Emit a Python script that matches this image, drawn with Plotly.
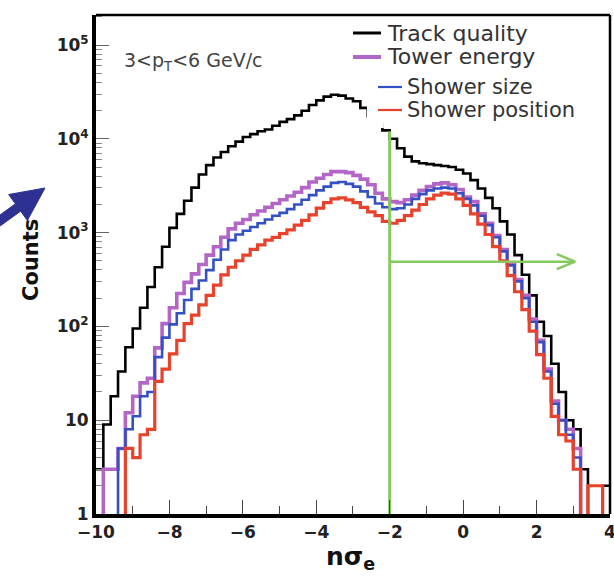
import plotly.graph_objects as go

# ---------------- data (counts per bin, bins of width 0.2 from -10 to 4) ----------------
BIN_LO = -10.0
BIN_W = 0.2

track_quality = [3, 9, 18, 33, 60, 95, 158, 263, 427, 708,
                 1122, 1585, 2188, 3020, 4169, 5248, 6310, 7244, 8318, 9333,
                 10470, 11220, 12020, 12590, 13800, 15140, 16220, 17780, 19950, 22910,
                 25700, 28180, 29510, 28840, 26920, 25120, 21380, 17380, 14450, 12300,
                 10000, 7943, 6457, 5754, 5495, 5370, 5248, 5129, 5012, 4677,
                 4266, 3631, 2951, 2344, 1820, 1318, 955, 575, 355, 214,
                 112, 79, 40, 20, 10, 8, 3, 0, 0, 2]

tower_energy = [0, 3, 3, 5, 12, 18, 25, 28, 59, 107,
                158, 224, 295, 363, 457, 575, 708, 891, 1096, 1259,
                1380, 1549, 1698, 1862, 2042, 2239, 2455, 2692, 3020, 3467,
                3802, 4169, 4467, 4467, 4365, 4074, 3715, 3236, 2630, 2291,
                2138, 2089, 2239, 2512, 2818, 3090, 3311, 3388, 3236, 2884,
                2399, 2138, 1585, 1259, 933, 661, 468, 316, 214, 120,
                71, 35, 16, 10, 8, 5, 0, 0, 0, 0]

shower_size = [0, 0, 0, 5, 8, 11, 18, 20, 47, 76,
               105, 138, 191, 251, 309, 398, 513, 661, 832, 955,
               1047, 1148, 1259, 1380, 1514, 1622, 1778, 1995, 2239, 2512,
               2818, 3090, 3388, 3467, 3311, 3090, 2754, 2399, 2042, 1862,
               1778, 1820, 1995, 2291, 2570, 2818, 2951, 3020, 2951, 2630,
               2291, 1950, 1514, 1202, 891, 631, 447, 302, 200, 112,
               68, 33, 15, 10, 7, 4, 0, 0, 0, 0]

shower_position = [0, 0, 0, 0, 5, 4, 7, 8, 26, 35,
                   51, 71, 107, 132, 170, 214, 275, 355, 427, 501,
                   575, 661, 741, 832, 891, 977, 1072, 1202, 1349, 1549,
                   1820, 2089, 2291, 2344, 2239, 2089, 1862, 1660, 1514, 1318,
                   1259, 1349, 1514, 1738, 1995, 2291, 2512, 2630, 2570, 2291,
                   1950, 1585, 1230, 955, 708, 501, 347, 234, 151, 89,
                   50, 28, 11, 7, 6, 3, 0, 2, 2, 0]

series_names = ["Track quality", "Tower energy", "Shower size", "Shower position"]
series_colors = ["#000000", "#b466c6", "#3550c4", "#e8422c"]
series_widths = [2.6, 3.6, 2.6, 3.2]

x_ticks = [-10, -8, -6, -4, -2, 0, 2, 4]
y_ticks = [1, 10, 100, 1000, 10000, 100000]
y_tick_text = ["1", "10", "10<sup>2</sup>", "10<sup>3</sup>", "10<sup>4</sup>", "10<sup>5</sup>"]

# cut annotation (green): nsigma_e > -2
CUT = -2.0
CUT_TOP = 10 ** 4.08
ARROW_LEVEL = 490
ARROW_END = 3.05

FLOOR = 0.1  # empty bins drawn below the axis (log scale)
FONT = "DejaVu Sans, Liberation Sans, Arial, sans-serif"

# ---------------- geometry helpers (pixel -> paper) ----------------
W, H = 614, 579
ML, MR, MT, MB = 96, 4, 15, 65
PW, PH = W - ML - MR, H - MT - MB


def px(xp):
    return (xp - ML) / PW


def py(yp):
    return (H - MB - yp) / PH


# ---------------- figure ----------------
fig = go.Figure()
n = len(track_quality)
edges = [BIN_LO + i * BIN_W for i in range(n + 1)]


def step(counts):
    y = [c if c > 0 else FLOOR for c in counts]
    return edges, y + [y[-1]]


for name, data, col, w in zip(series_names,
                              [track_quality, tower_energy, shower_size, shower_position],
                              series_colors, series_widths):
    xs, ys = step(data)
    fig.add_trace(go.Scatter(x=xs, y=ys, mode="lines", name=name, showlegend=False,
                             line=dict(color=col, width=w, shape="hv")))

GREEN = "#86c95e"
fig.add_trace(go.Scatter(x=[CUT, CUT], y=[FLOOR, CUT_TOP], mode="lines",
                         line=dict(color=GREEN, width=3), showlegend=False, hoverinfo="skip"))
fig.add_trace(go.Scatter(x=[CUT, ARROW_END], y=[ARROW_LEVEL, ARROW_LEVEL], mode="lines",
                         line=dict(color=GREEN, width=2.5), showlegend=False, hoverinfo="skip"))
fig.add_trace(go.Scatter(x=[ARROW_END - 0.5, ARROW_END, ARROW_END - 0.5],
                         y=[ARROW_LEVEL * 10 ** 0.08, ARROW_LEVEL, ARROW_LEVEL / 10 ** 0.08],
                         mode="lines", line=dict(color=GREEN, width=2.5),
                         showlegend=False, hoverinfo="skip"))

minor_y = [k * 10 ** p for p in range(0, 6) for k in range(2, 10)]

fig.update_layout(
    width=W, height=H,
    margin=dict(l=ML, r=MR, t=MT, b=MB, autoexpand=False),
    paper_bgcolor="white", plot_bgcolor="white",
    font=dict(family=FONT, color="#222"),
    showlegend=False,
    xaxis=dict(range=[-10, 4.0005], tickvals=x_ticks, ticks="inside", ticklen=14,
               tickwidth=1.3, tickcolor="#444", showline=True, linewidth=4,
               linecolor="black", showgrid=False, zeroline=False, automargin=False,
               ticklabeloverflow="allow",
               tickfont=dict(family=FONT, size=17, color="#222", weight="bold"),
               minor=dict(ticks="inside", ticklen=8, dtick=1, tickcolor="#444",
                          tickwidth=1.3, showgrid=False)),
    yaxis=dict(type="log", range=[0, 5.32], tickvals=y_ticks, ticktext=y_tick_text,
               ticks="inside", ticklen=13, tickwidth=1.3, tickcolor="#666",
               showline=True, linewidth=4, linecolor="black", showgrid=False,
               zeroline=False, automargin=False, ticklabeloverflow="allow",
               tickfont=dict(family=FONT, size=17, color="#222", weight="bold"),
               minor=dict(tickmode="array", tickvals=minor_y, ticks="inside",
                          ticklen=6, tickcolor="#888", tickwidth=1, showgrid=False)),
)

# frame (top & right thinner)
fig.add_shape(type="line", xref="paper", yref="paper", x0=0, x1=1, y0=1, y1=1,
              line=dict(color="black", width=2.5))
fig.add_shape(type="line", xref="paper", yref="paper", x0=1, x1=1, y0=0, y1=1,
              line=dict(color="black", width=2.5))
# white patch hiding part of the black curve as in the original
fig.add_shape(type="rect", xref="x", yref="y", x0=-2.62, x1=-2.16,
              y0=10 ** 4.115, y1=10 ** 4.42, fillcolor="white", line=dict(width=0),
              layer="above")

# ---------------- legend (drawn by hand to match the original layout) ----------------
legend_rows_y = [33, 57, 87, 110]
legend_line_x = [(353, 381), (353, 381), (378, 402), (378, 402)]
legend_text_x = [385, 385, 405, 405]
legend_line_w = [3, 4, 2.2, 2.2]
legend_sizes = [22, 22, 21, 21]
for name, col, ly, (lx0, lx1), tx, lw, fs in zip(series_names, series_colors, legend_rows_y,
                                                  legend_line_x, legend_text_x,
                                                  legend_line_w, legend_sizes):
    fig.add_shape(type="line", xref="paper", yref="paper", x0=px(lx0), x1=px(lx1),
                  y0=py(ly), y1=py(ly), line=dict(color=col, width=lw))
    fig.add_annotation(text=name, xref="paper", yref="paper", x=px(tx), y=py(ly),
                       xanchor="left", yanchor="middle", showarrow=False,
                       font=dict(family=FONT, size=fs, color="#333"))

fig.add_annotation(text="Counts", xref="paper", yref="paper", x=px(31), y=py(260),
                   xanchor="center", yanchor="middle", textangle=-90, showarrow=False,
                   font=dict(family=FONT, size=21, color="#111", weight="bold"))
fig.add_annotation(text="nσ<sub>e</sub>", xref="paper", yref="paper", x=px(350), y=py(558),
                   xanchor="center", yanchor="middle", showarrow=False,
                   font=dict(family=FONT, size=25, color="#111", weight="bold"))
fig.add_annotation(text="3&lt;p<sub>T</sub>&lt;6 GeV/c", xref="paper", yref="paper",
                   x=px(122), y=py(62), xanchor="left", yanchor="middle", showarrow=False,
                   font=dict(family=FONT, size=19, color="#444"))

# blue pointer arrow on the left (pixel geometry)
tip = (45.0, 188.0)
base = (18.0, 207.5)
dx, dy = tip[0] - base[0], tip[1] - base[1]
L = (dx * dx + dy * dy) ** 0.5
ux, uy = dx / L, dy / L
nx, ny = -uy, ux
shaft_len, shaft_hw, head_hw = 32, 4.5, 16
tail = (base[0] - shaft_len * ux, base[1] - shaft_len * uy)
pts = [
    (tail[0] - shaft_hw * nx, tail[1] - shaft_hw * ny),
    (base[0] - shaft_hw * nx, base[1] - shaft_hw * ny),
    (base[0] - head_hw * nx, base[1] - head_hw * ny),
    tip,
    (base[0] + head_hw * nx, base[1] + head_hw * ny),
    (base[0] + shaft_hw * nx, base[1] + shaft_hw * ny),
    (tail[0] + shaft_hw * nx, tail[1] + shaft_hw * ny),
]
path = "M " + " L ".join(f"{px(a):.5f},{py(b):.5f}" for a, b in pts) + " Z"
fig.add_shape(type="path", xref="paper", yref="paper", path=path,
              fillcolor="#2e3192", line=dict(color="#2e3192", width=1))

fig.write_html("out.html",
               config={"displayModeBar": False},
               post_script="document.body.style.margin='0';document.body.style.padding='0';"
                           "document.body.style.overflow='hidden';")
